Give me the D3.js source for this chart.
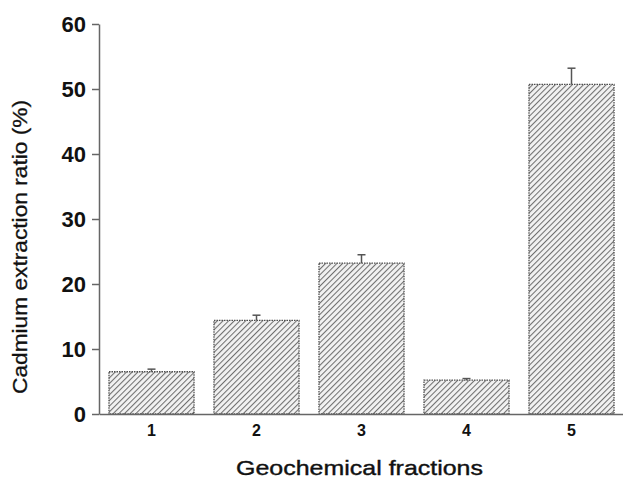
<!DOCTYPE html>
<html>
<head>
<meta charset="utf-8">
<script src="https://cdn.jsdelivr.net/npm/d3@7"></script>
<style>
  html, body { margin: 0; padding: 0; background: #fff; }
  svg { display: block; font-family: Arial, "Liberation Sans", sans-serif; }
</style>
</head>
<body>
<svg id="chart" width="623" height="481"></svg>
<script>
// Cadmium extraction by geochemical fraction
const categories = ["1", "2", "3", "4", "5"];
const values = [6.5, 14.4, 23.2, 5.2, 50.7];
const errors = [0.4, 0.8, 1.3, 0.25, 2.5];
const yTicks = [0, 10, 20, 30, 40, 50, 60];

const svg = d3.select("#chart");
const margin = { left: 99, right: -1, top: 22, bottom: 67 };
const W = 623, H = 481;

const x = d3.scaleBand()
  .domain(categories)
  .range([margin.left, W - margin.right])
  .paddingInner(0.19)
  .paddingOuter(0.095);

const y = d3.scaleLinear()
  .domain([0, 60])
  .range([H - margin.bottom, margin.top + 2]);

// diagonal hatch fill
const defs = svg.append("defs");
const pat = defs.append("pattern")
  .attr("id", "hatch")
  .attr("patternUnits", "userSpaceOnUse")
  .attr("width", 4)
  .attr("height", 4)
  .attr("patternTransform", "rotate(45)");
pat.append("rect").attr("width", 4).attr("height", 4).attr("fill", "#f2f2f2");
pat.append("line")
  .attr("x1", 0).attr("y1", 0).attr("x2", 0).attr("y2", 4)
  .attr("stroke", "#707070").attr("stroke-width", 2.1);

// bars
svg.append("g").selectAll("rect")
  .data(categories)
  .join("rect")
  .attr("x", (d) => x(d))
  .attr("width", x.bandwidth())
  .attr("y", (d, i) => y(values[i]))
  .attr("height", (d, i) => y(0) - y(values[i]))
  .attr("fill", "url(#hatch)")
  .attr("stroke", "#505050")
  .attr("stroke-width", 1.3)
  .attr("stroke-dasharray", "1.5,1");

// upper error bars
const eg = svg.append("g").attr("stroke", "#555").attr("stroke-width", 1.5);
categories.forEach((c, i) => {
  const cx = x(c) + x.bandwidth() / 2;
  eg.append("line")
    .attr("x1", cx).attr("x2", cx)
    .attr("y1", y(values[i])).attr("y2", y(values[i] + errors[i]));
  eg.append("line")
    .attr("x1", cx - 4).attr("x2", cx + 4)
    .attr("y1", y(values[i] + errors[i])).attr("y2", y(values[i] + errors[i]));
});

// y axis
const yAxis = svg.append("g")
  .attr("transform", `translate(${margin.left},0)`)
  .call(d3.axisLeft(y).tickValues(yTicks).tickSize(7).tickSizeOuter(0).tickPadding(6));
yAxis.select(".domain").attr("stroke", "#666").attr("stroke-width", 1.5);
yAxis.selectAll(".tick line").attr("stroke", "#666").attr("stroke-width", 1.5);
yAxis.selectAll(".tick text")
  .attr("fill", "#111")
  .style("font-size", "22px")
  .style("font-weight", "bold");

// x axis
const xAxis = svg.append("g")
  .attr("transform", `translate(0,${y(0)})`)
  .call(d3.axisBottom(x).tickSize(0).tickSizeOuter(0).tickPadding(11));
xAxis.select(".domain").attr("stroke", "#666").attr("stroke-width", 1.5);
xAxis.selectAll(".tick text")
  .attr("fill", "#111")
  .style("font-size", "16px")
  .style("font-weight", "bold");

// axis titles
svg.append("text")
  .attr("x", 359.5)
  .attr("y", 475)
  .attr("text-anchor", "middle")
  .attr("fill", "#111")
  .attr("stroke", "#111")
  .attr("stroke-width", 0.4)
  .attr("textLength", 247)
  .attr("lengthAdjust", "spacingAndGlyphs")
  .style("font-size", "21px")
  .text("Geochemical fractions");

svg.append("text")
  .attr("transform", "translate(27,247) rotate(-90)")
  .attr("text-anchor", "middle")
  .attr("fill", "#111")
  .attr("stroke", "#111")
  .attr("stroke-width", 0.3)
  .attr("textLength", 294)
  .attr("lengthAdjust", "spacingAndGlyphs")
  .style("font-size", "20px")
  .text("Cadmium extraction ratio (%)");
</script>
</body>
</html>
